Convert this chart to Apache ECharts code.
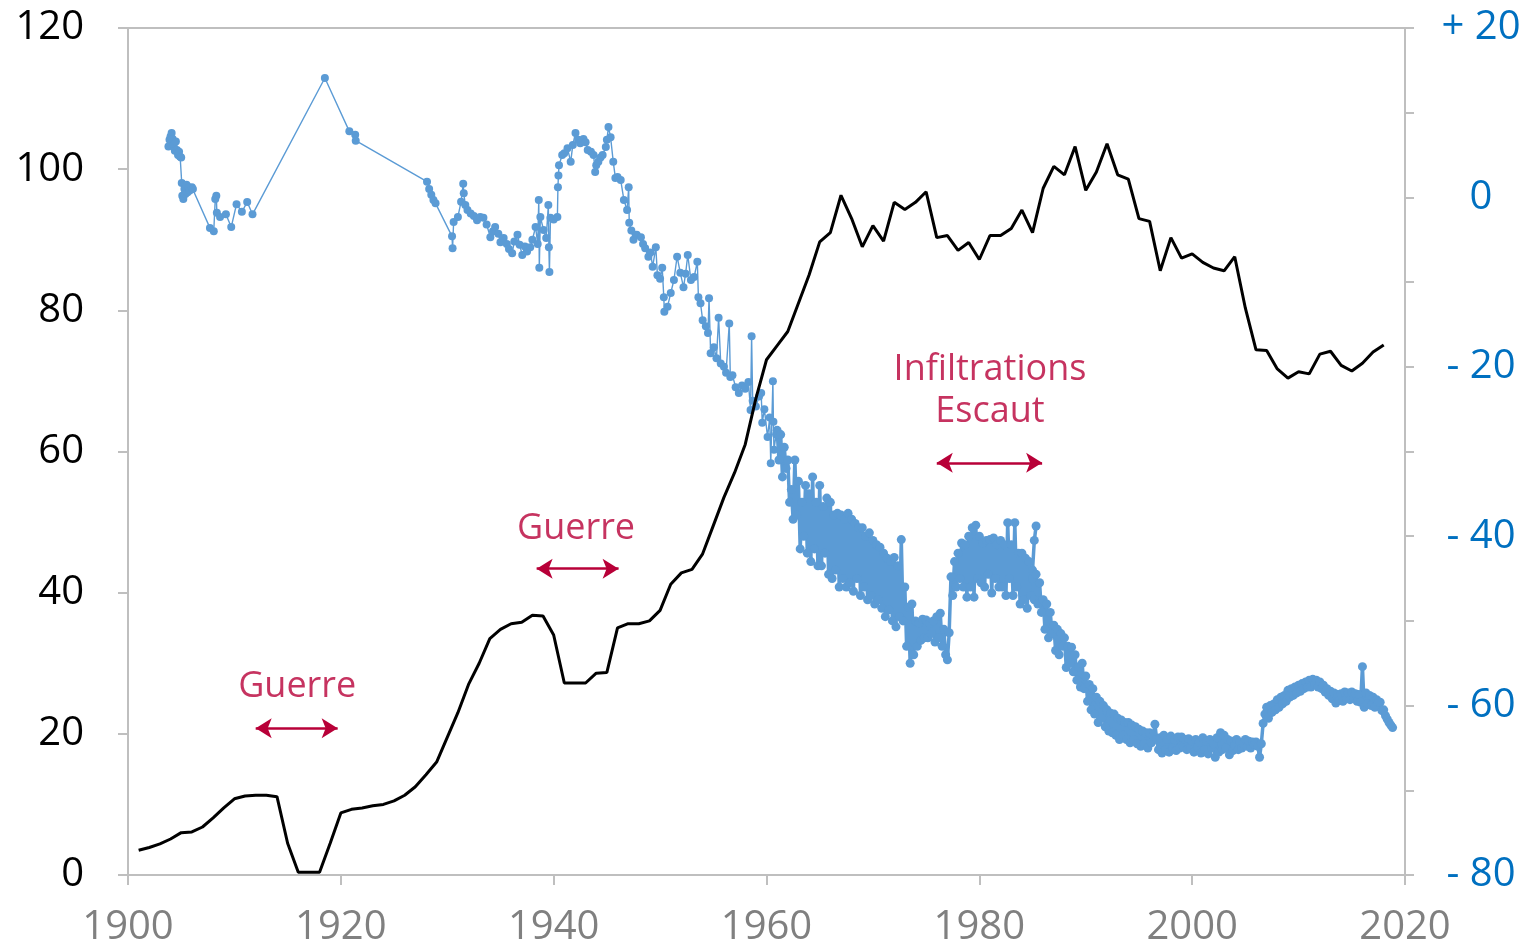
<!DOCTYPE html>
<html>
<head>
<meta charset="utf-8">
<script src="https://cdn.jsdelivr.net/npm/echarts@6/dist/echarts.min.js"></script>
<style>
  html, body { margin: 0; padding: 0; background: #fff; }
  #chart { width: 1530px; height: 946px; }
</style>
</head>
<body>
<div id="chart"></div>
<script>
// black line, left axis, one value per year from 1901
const blackStart = 1901;
const blackValues = [
  3.5, 3.9, 4.4, 5.1, 6.0, 6.1, 6.8, 8.1, 9.5, 10.8,
  11.2, 11.3, 11.3, 11.1, 4.5, 0.4, 0.4, 0.4, 4.5, 8.8,
  9.3, 9.5, 9.8, 10.0, 10.5, 11.3, 12.5, 14.2, 16.0, 19.5,
  23.0, 27.0, 30.0, 33.5, 34.8, 35.6, 35.8, 36.8, 36.7, 34.0,
  27.2, 27.2, 27.2, 28.6, 28.7, 35.0, 35.6, 35.6, 36.0, 37.5,
  41.2, 42.8, 43.3, 45.5, 49.5, 53.5, 57.0, 61.0, 67.5, 73.0,
  75.0, 77.0, 81.0, 85.0, 89.7, 91.0, 96.3, 93.0, 89.0, 92.0,
  89.8, 95.3, 94.3, 95.3, 96.8, 90.3, 90.6, 88.5, 89.6, 87.2,
  90.6, 90.6, 91.6, 94.2, 91.0, 97.3, 100.4, 99.2, 103.2, 97.0,
  99.6, 103.6, 99.2, 98.6, 93.0, 92.6, 85.6, 90.3, 87.4, 88.0,
  86.8, 86.0, 85.6, 87.6, 80.3, 74.4, 74.3, 71.7, 70.4, 71.3,
  71.0, 73.8, 74.2, 72.2, 71.4, 72.5, 74.1, 75.1
];

// blue series, right axis: sparse readings [year, value]
const blueEarly = [
  [1903.8, 6.0], [1903.9, 6.8], [1904.0, 7.2], [1904.1, 7.6], [1904.2, 6.9], [1904.3, 6.2],
  [1904.4, 5.5], [1904.5, 6.6], [1904.6, 5.6], [1904.7, 5.0], [1904.8, 5.4], [1904.9, 4.8],
  [1905.0, 4.7], [1905.05, 1.7], [1905.1, 0.2], [1905.2, -0.2], [1905.3, 1.0], [1905.4, 0.4],
  [1905.5, 1.5], [1905.6, 0.6], [1905.7, 1.2], [1905.8, 0.8], [1906.0, 1.2], [1906.1, 1.0],
  [1907.7, -3.6], [1908.06, -4.0], [1908.2, -0.2], [1908.3, 0.2], [1908.35, -1.8], [1908.65, -2.3],
  [1909.2, -2.0], [1909.7, -3.5], [1910.2, -0.8], [1910.7, -1.7], [1911.2, -0.55], [1911.7, -2.0],
  [1918.5, 14.1], [1920.8, 7.8], [1921.35, 7.4], [1921.4, 6.7],
  [1928.1, 1.85], [1928.3, 1.0], [1928.5, 0.3], [1928.7, -0.3], [1928.9, -0.7], [1930.45, -4.6],
  [1930.5, -6.0], [1930.6, -2.9], [1931.0, -2.3], [1931.3, -0.5], [1931.5, 1.6], [1931.55, 0.5],
  [1931.7, -0.9], [1931.9, -1.5], [1932.2, -1.9], [1932.5, -2.2], [1932.8, -2.7], [1933.1, -2.3],
  [1933.4, -2.4], [1933.7, -3.2], [1934.05, -4.7], [1934.3, -4.0], [1934.5, -3.5], [1934.8, -4.3],
  [1935.0, -5.3], [1935.3, -4.8], [1935.6, -5.5], [1935.8, -6.1], [1936.1, -6.6], [1936.3, -5.2],
  [1936.6, -4.4], [1936.8, -5.6], [1937.05, -6.8], [1937.3, -5.8], [1937.5, -6.4], [1937.8, -5.9],
  [1938.0, -5.0], [1938.3, -3.5], [1938.5, -5.5], [1938.6, -0.3], [1938.65, -8.3], [1938.75, -2.3],
  [1939.05, -3.85], [1939.3, -4.8], [1939.5, -0.9], [1939.55, -5.9], [1939.6, -8.8], [1939.7, -2.4],
  [1940.0, -2.6], [1940.35, -2.3], [1940.4, 1.2], [1940.45, 2.6], [1940.5, 3.8], [1940.8, 5.0],
  [1941.0, 5.2], [1941.3, 5.8], [1941.6, 4.2], [1941.8, 6.2], [1942.05, 7.6], [1942.3, 6.8],
  [1942.5, 6.4], [1942.8, 6.9], [1943.0, 6.5], [1943.2, 5.6], [1943.5, 5.4], [1943.75, 5.0],
  [1943.9, 3.0], [1944.0, 3.8], [1944.2, 4.2], [1944.4, 4.7], [1944.6, 5.0], [1944.9, 5.95],
  [1945.0, 6.8], [1945.15, 8.3], [1945.35, 7.1], [1945.6, 4.2], [1945.8, 2.3], [1946.0, 2.4],
  [1946.3, 2.05], [1946.6, -0.3], [1946.9, -1.5], [1947.05, 1.2], [1947.1, -3.0], [1947.3, -3.9],
  [1947.5, -5.0], [1947.8, -4.4], [1948.2, -4.7], [1948.4, -5.5], [1948.6, -6.0], [1948.9, -7.0],
  [1949.1, -6.5], [1949.3, -8.2], [1949.6, -5.9], [1949.75, -9.2], [1950.0, -9.6], [1950.2, -8.3],
  [1950.35, -11.8], [1950.4, -13.5], [1950.7, -12.9], [1951.0, -11.3], [1951.3, -9.75], [1951.6, -7.0],
  [1951.9, -8.9], [1952.2, -10.6], [1952.4, -9.0], [1952.6, -6.8], [1952.9, -9.75], [1953.2, -9.4],
  [1953.5, -7.6], [1953.6, -11.8], [1953.8, -12.5], [1954.0, -14.5], [1954.3, -15.2], [1954.5, -16.0],
  [1954.6, -11.9], [1954.75, -18.4], [1955.05, -17.7], [1955.3, -19.0], [1955.5, -14.2], [1955.7, -19.6],
  [1956.0, -20.0], [1956.2, -20.7], [1956.5, -14.9], [1956.6, -21.2], [1956.8, -21.0], [1957.1, -22.4],
  [1957.4, -23.1], [1957.7, -22.2], [1958.0, -22.6], [1958.3, -21.8], [1958.5, -25.1], [1958.6, -16.4],
  [1958.7, -24.0], [1959.0, -24.7], [1959.3, -23.5], [1959.5, -23.1], [1959.6, -26.6], [1959.8, -25.0],
  [1960.1, -28.3], [1960.3, -26.0], [1960.4, -31.4], [1960.6, -21.7], [1960.65, -26.5], [1960.7, -29.8],
  [1960.9, -28.0]
];

// dense readings, six per year: [year, v1..v6]
const blueRowsA = [
  [1961, -27.5, -31, -28, -33, -29.5, -32],
  [1962, -31, -36, -34.5, -38, -31, -37.5],
  [1963, -33.5, -41.5, -36, -40, -34, -42],
  [1964, -35, -43, -33, -41.5, -36, -43.5],
  [1965, -34, -43.5, -36.5, -42, -35.5, -44.5],
  [1966, -36, -45, -37.5, -44, -37.3, -46],
  [1967, -37.5, -45, -38, -46, -37.3, -45.5],
  [1968, -38, -46.5, -38.5, -45, -39, -47],
  [1969, -39, -46, -40, -47.5, -39.6, -47],
  [1970, -40.5, -48, -41, -47.5, -41.3, -48.5],
  [1971, -42, -49.5, -42.6, -48.7, -43, -50],
  [1972, -42.5, -50.7, -43.5, -49.5, -40.4, -50],
  [1973, -46, -53, -48.4, -55, -48, -54],
  [1974, -50, -53, -50.3, -52.3, -49.8, -52],
  [1975, -49.9, -52, -50.3, -51.5, -50, -52.5],
  [1976, -49.5, -52, -49.1, -53, -51, -54],
  [1977, -54.6, -51.4, -44.8, -47, -43, -46],
  [1978, -42, -45, -40.8, -46, -41, -47.2],
  [1979, -40, -46, -39, -47.2, -38.7, -45],
  [1980, -40, -45.5, -40.8, -46, -40.5, -44.5],
  [1981, -40.4, -46.7, -40.2, -45, -41, -46],
  [1982, -40.5, -46, -41, -47, -38.4, -45],
  [1983, -41, -47, -38.4, -46, -42, -48],
  [1984, -42, -47.5, -42.6, -48.5, -43, -47],
  [1985, -44, -40.5, -38.8]
];

const blueRowsB = [
  [1985, -45, -47.5, -44.5, -48, -45.5, -49],
  [1986, -47.5, -51, -48, -52, -49, -51.5],
  [1987, -50.5, -53.5, -51, -54, -51.5, -53],
  [1988, -52, -55.5, -53, -55, -53.1, -56],
  [1989, -54, -57, -55.4, -57.8, -55, -58],
  [1990, -56.5, -59.5, -57.5, -60.5, -58, -61],
  [1991, -59, -62, -59.5, -61.5, -60, -62.5],
  [1992, -60.5, -63, -60.9, -63.2, -61, -63.5],
  [1993, -61.5, -64, -61.7, -63.5, -62, -64],
  [1994, -62, -64.4, -62.3, -64, -62.5, -64.5],
  [1995, -62.8, -64.8, -63, -64.5, -63.2, -65],
  [1996, -63.2, -64.4, -63.5, -62.2, -64, -65.2],
  [1997, -63.8, -65.6, -63.5, -65.2, -64, -65.5],
  [1998, -63.6, -65, -64, -65.3, -63.7, -65],
  [1999, -63.7, -64.8, -64, -65.2, -63.9, -65],
  [2000, -64.2, -65.5, -64, -64.9, -64.3, -65.6],
  [2001, -63.8, -65.2, -64.2, -65.7, -64, -65],
  [2002, -64.5, -66.1, -63.8, -65.5, -63.2, -65.2],
  [2003, -63.5, -65, -64, -65.8, -64.2, -65.3],
  [2004, -64.7, -64, -65.2, -64.3, -65, -64.5],
  [2005, -64, -64.8, -64.2, -65, -64.3, -64.6],
  [2006, -64.3, -64.8, -66.1, -64.5, -62.1, -61],
  [2007, -60.2, -61.5, -60, -60.8, -59.8, -60.5],
  [2008, -59.3, -60.2, -59, -59.8, -58.8, -59.5],
  [2009, -58.2, -59, -58, -58.8, -57.8, -58.5],
  [2010, -57.6, -58.3, -57.4, -58, -57.2, -57.8],
  [2011, -57, -57.8, -56.9, -57.5, -57, -57.8],
  [2012, -57.2, -58, -57.6, -58.4, -58, -58.8],
  [2013, -58.3, -59.2, -58.5, -59.7, -58.7, -59.4],
  [2014, -58.6, -59.5, -58.4, -59.2, -58.5, -59.3],
  [2015, -58.4, -59.2, -58.6, -59.5, -58.7, -59.6],
  [2016, -55.4, -60.2, -58.5, -59.8, -58.8, -60],
  [2017, -59, -60.2, -59.3, -59.6, -59.6, -60.6],
  [2018, -60.5, -61.2, -61.6, -62, -62.3, -62.6]
];

const rightLabels = { '20': '+ 20', '0': '0', '-20': '- 20', '-40': '- 40', '-60': '- 60', '-80': '- 80' };

const notes = [
  { text: 'Guerre', x: 1915.9, y: 26.6 },
  { text: 'Guerre', x: 1942.1, y: 49.1 },
  { text: 'Infiltrations\nEscaut', x: 1981.0, y: 68.6 }
];
const arrows = [
  [1912.0, 1919.7, 20.8],
  [1938.4, 1946.1, 43.4],
  [1976.0, 1985.9, 58.4]
];

function expandRows(rows) {
  const out = [];
  rows.forEach(r => {
    for (let k = 1; k < r.length; k++) out.push([r[0] + (k - 1) / 6, r[k]]);
  });
  return out;
}

const blackData = blackValues.map((v, i) => [blackStart + i, v]);

const FONT = 'Open Sans';
const AXIS_GRAY = '#BFBFBF';
const RED = '#B80038';
const BLUE = '#5B9BD5';

const chart = echarts.init(document.getElementById('chart'), null, { renderer: 'canvas' });

function blueSeries(name, data, width, size) {
  return {
    name: name, type: 'line', data: data, yAxisIndex: 1,
    symbol: 'circle', symbolSize: size, showAllSymbol: true,
    lineStyle: { color: BLUE, width: width },
    itemStyle: { color: BLUE },
    z: 2
  };
}

chart.setOption({
  animation: false,
  textStyle: { fontFamily: FONT },
  grid: { left: 128, right: 125, top: 28, bottom: 71, containLabel: false, outerBoundsMode: 'none' },
  xAxis: [
    {
      type: 'value', min: 1900, max: 2020, interval: 20,
      axisLine: { show: true, onZero: false, lineStyle: { color: AXIS_GRAY, width: 2 } },
      axisTick: { show: true, length: 10, lineStyle: { color: AXIS_GRAY, width: 2 } },
      axisLabel: { color: '#808080', fontSize: 40, fontFamily: FONT, margin: 33, formatter: v => String(v) },
      splitLine: { show: false }
    },
    {
      type: 'value', min: 1900, max: 2020, position: 'top',
      axisLine: { show: true, onZero: false, lineStyle: { color: AXIS_GRAY, width: 2 } },
      axisTick: { show: false }, axisLabel: { show: false }, splitLine: { show: false }
    }
  ],
  yAxis: [
    {
      type: 'value', min: 0, max: 120, interval: 20,
      axisLine: { show: true, onZero: false, lineStyle: { color: AXIS_GRAY, width: 2 } },
      axisTick: { show: true, length: 10, lineStyle: { color: AXIS_GRAY, width: 2 } },
      axisLabel: { color: '#000', fontSize: 40, fontFamily: FONT, margin: 44 },
      splitLine: { show: false }
    },
    {
      type: 'value', min: -80, max: 20, interval: 10, position: 'right',
      axisLine: { show: true, onZero: false, lineStyle: { color: AXIS_GRAY, width: 2 } },
      axisTick: { show: true, length: 9, lineStyle: { color: AXIS_GRAY, width: 2 } },
      axisLabel: {
        color: '#0070C0', fontSize: 40, fontFamily: FONT, margin: 76, align: 'center',
        formatter: v => rightLabels[String(v)] || ''
      },
      splitLine: { show: false }
    }
  ],
  series: [
    blueSeries('blueEarly', blueEarly, 1.4, 8),
    blueSeries('blueA', expandRows(blueRowsA), 3.5, 9),
    blueSeries('blueB', expandRows(blueRowsB), 3.5, 9),
    {
      name: 'black', type: 'line', data: blackData, yAxisIndex: 0,
      showSymbol: false, symbol: 'none',
      lineStyle: { color: '#000', width: 3 },
      z: 3,
      markLine: {
        silent: true,
        symbol: ['arrow', 'arrow'],
        symbolSize: [15, 16],
        label: { show: false },
        lineStyle: { color: RED, width: 2.5, type: 'solid' },
        data: arrows.map(a => [{ coord: [a[0], a[2]] }, { coord: [a[1], a[2]] }])
      }
    },
    {
      name: 'notes', type: 'scatter', yAxisIndex: 0, symbolSize: 0, silent: true, z: 4,
      data: notes.map(n => ({ value: [n.x, n.y], name: n.text })),
      label: {
        show: true, position: 'inside', formatter: p => p.name,
        color: RED, fontSize: 36, fontFamily: FONT, lineHeight: 42, align: 'center'
      }
    }
  ]
});
</script>
</body>
</html>
